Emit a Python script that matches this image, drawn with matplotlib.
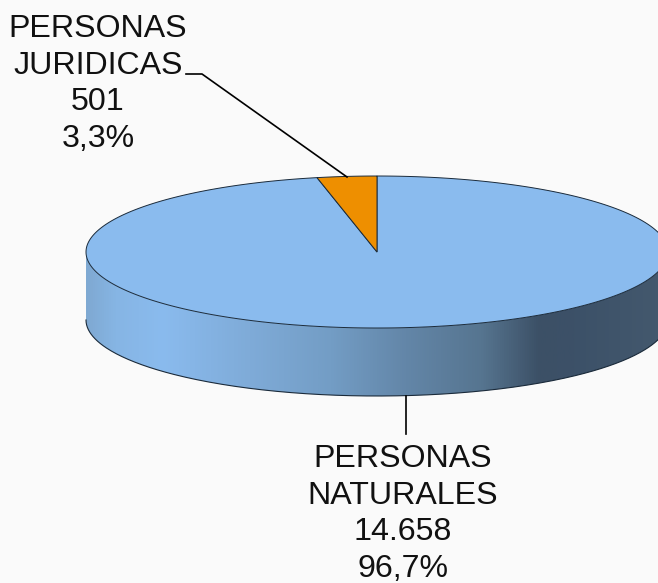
import numpy as np
import matplotlib.pyplot as plt
from matplotlib.colors import LinearSegmentedColormap
from matplotlib.patches import Polygon

# datos del grafico
labels = ['PERSONAS\nNATURALES\n14.658\n96,7%', 'PERSONAS\nJURIDICAS\n501\n3,3%']
values = [14658, 501]
colors = ['#8ABBEE', '#EE8F00']

W, H = 658, 583
fig = plt.figure(figsize=(W / 100, H / 100), dpi=100, facecolor='#FAFAFA')
ax = fig.add_axes([0, 0, 1, 1])
ax.set_xlim(0, W)
ax.set_ylim(H, 0)
ax.axis('off')

# geometria de la elipse (pixeles)
cx, cy = 377, 252
rx, ry = 291, 76
depth = 68

def ell(t):
    return cx + rx * np.sin(t), cy - ry * np.cos(t)

# pared lateral con degradado
side_cols = [(0.0, '#7FA9D2'), (0.05, '#86B5E4'), (0.13, '#8ABBEE'), (0.28, '#7FABD8'),
             (0.42, '#739DC5'), (0.55, '#6386A8'), (0.68, '#567590'), (0.78, '#3C5066'),
             (0.84, '#3C5168'), (1.0, '#44596E')]
cmap = LinearSegmentedColormap.from_list('lado', side_cols)
t = np.linspace(np.pi / 2, 3 * np.pi / 2, 300)
xs, ys = ell(t)
wall = np.column_stack([np.r_[xs, xs[::-1]], np.r_[ys, ys[::-1] + depth]])
clip = Polygon(wall, closed=True, fc='none', ec='none')
ax.add_patch(clip)
im = ax.imshow(np.linspace(0, 1, 512).reshape(1, -1), cmap=cmap, aspect='auto',
               extent=[cx - rx, cx + rx, H, 0], zorder=1)
im.set_clip_path(clip)
ax.set_xlim(0, W)
ax.set_ylim(H, 0)
ax.plot(xs, ys + depth, color='#1a2a3a', lw=0.8, zorder=2)

# sectores superiores, a partir de los valores
total = sum(values)
start = 0.0
for v, c in zip(values, colors):
    sweep = 2 * np.pi * v / total
    t = np.linspace(start, start + sweep, 400)
    xs, ys = ell(t)
    ax.add_patch(Polygon(np.column_stack([np.r_[cx, xs], np.r_[cy, ys]]), closed=True,
                         fc=c, ec='#1a2a3a', lw=0.7, zorder=3))
    start += sweep

# lineas guia y etiquetas
ax.plot([186, 202, 347], [74, 74, 177], color='black', lw=1.2, zorder=4)
ax.plot([406, 406], [396, 434], color='black', lw=1.2, zorder=4)

font = dict(family='Liberation Sans', fontsize=23.1, ha='center', va='center',
            color='#111111', linespacing=1.29)
ax.text(98, 84, labels[1], **font)
ax.text(403, 514, labels[0], **font)

fig.savefig('out.png', dpi=100, facecolor=fig.get_facecolor())
